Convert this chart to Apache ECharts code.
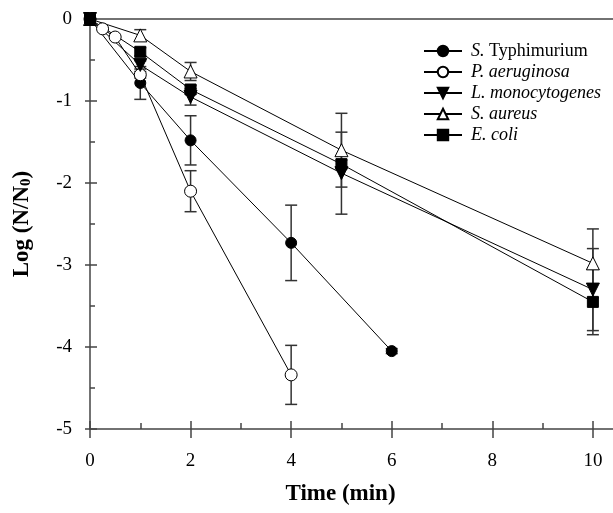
<!DOCTYPE html>
<html><head><meta charset="utf-8">
<script src="https://cdn.jsdelivr.net/npm/echarts@6/dist/echarts.min.js"></script>
<style>html,body{margin:0;padding:0;background:#fff}#c{width:613px;height:513px}</style>
</head><body><div id="c"></div>
<script>
// Data
const typhiT = [0, 1, 2, 4, 6];
const typhiY = [0, -0.78, -1.48, -2.73, -4.05];
const typhiE = [0, 0.2, 0.3, 0.46, 0.03];

const aeruT = [0, 0.25, 0.5, 1, 2, 4];
const aeruY = [0, -0.12, -0.22, -0.68, -2.1, -4.34];
const aeruE = [0, 0, 0, 0.04, 0.25, 0.36];

const monoT = [0, 1, 2, 5, 10];
const monoY = [0, -0.56, -0.95, -1.88, -3.3];
const monoE = [0, 0.05, 0.1, 0.5, 0.5];

const aureusT = [0, 1, 2, 5, 10];
const aureusY = [0, -0.2, -0.64, -1.6, -2.98];
const aureusE = [0, 0.07, 0.11, 0.45, 0.42];

const coliT = [0, 1, 2, 5, 10];
const coliY = [0, -0.4, -0.86, -1.77, -3.45];
const coliE = [0, 0.05, 0.05, 0.05, 0.4];

const xTicks = [0, 2, 4, 6, 8, 10];
const xMinor = [1, 3, 5, 7, 9];
const yTicks = [0, -1, -2, -3, -4, -5];

const FONT = 'Liberation Serif';
const AX = '#444';
const chart = echarts.init(document.getElementById('c'));

function pts(t, y) { return t.map((v, i) => [v, y[i]]); }
function errs(t, y, e) { return t.map((v, i) => [v, y[i], e[i]]); }

function errSeries(name, data) {
  return {
    type: 'custom', name: name + '_err', z: 1, silent: true,
    data: data,
    renderItem: function (params, api) {
      const x = api.value(0), y = api.value(1), e = api.value(2);
      if (!e) return null;
      const top = api.coord([x, y + e]);
      const bot = api.coord([x, y - e]);
      const w = 6;
      const st = { stroke: '#333', lineWidth: 1.5 };
      return {
        type: 'group', children: [
          { type: 'line', shape: { x1: top[0], y1: top[1], x2: bot[0], y2: bot[1] }, style: st },
          { type: 'line', shape: { x1: top[0] - w, y1: top[1], x2: top[0] + w, y2: top[1] }, style: st },
          { type: 'line', shape: { x1: bot[0] - w, y1: bot[1], x2: bot[0] + w, y2: bot[1] }, style: st }
        ]
      };
    }
  };
}

function lineSeries(name, data, symbol, filled, size, rotate) {
  return {
    type: 'line', name: name, data: data, z: 3,
    symbol: symbol, symbolSize: size, symbolRotate: rotate || 0,
    showAllSymbol: true,
    lineStyle: { color: '#000', width: 1 },
    itemStyle: { color: filled ? '#000' : '#fff', borderColor: '#000', borderWidth: 1 },
    emphasis: { disabled: true },
    animation: false
  };
}

const names = ['S. Typhimurium', 'P. aeruginosa', 'L. monocytogenes', 'S. aureus', 'E. coli'];

function tickAxis(pos, vals, inside, len) {
  return {
    type: 'value', min: 0, max: 10.4, position: pos,
    axisLine: { show: false, onZero: false },
    axisTick: { show: true, inside: inside, length: len, customValues: vals, lineStyle: { color: AX, width: 1.5 } },
    axisLabel: { show: false }, splitLine: { show: false }
  };
}

const option = {
  animation: false,
  grid: { left: 90, top: 19, width: 523, height: 410, containLabel: false },
  legend: {
    orient: 'vertical', left: 418, top: 37,
    itemWidth: 38, itemHeight: 13, itemGap: 3,
    data: names,
    textStyle: {
      fontFamily: FONT, fontSize: 18, color: '#000', padding: [0, 0, 0, 4],
      rich: { i: { fontFamily: FONT, fontSize: 18, fontStyle: 'italic', color: '#000' },
              n: { fontFamily: FONT, fontSize: 18, color: '#000' } }
    },
    formatter: function (n) {
      if (n === 'S. Typhimurium') return '{i|S.}{n| Typhimurium}';
      return '{i|' + n + '}';
    }
  },
  xAxis: [
    {
      type: 'value', min: 0, max: 10.4, position: 'bottom',
      axisLine: { show: true, onZero: false, lineStyle: { color: AX, width: 1.5 } },
      axisTick: { show: true, inside: true, length: 8, customValues: xTicks, lineStyle: { color: AX, width: 1.5 } },
      splitLine: { show: false },
      axisLabel: { fontFamily: FONT, fontSize: 19, color: '#000', margin: 23, customValues: xTicks },
      name: 'Time (min)', nameLocation: 'middle', nameGap: 54,
      nameTextStyle: { fontFamily: FONT, fontSize: 23, fontWeight: 'bold', color: '#000', padding: [0, 22, 0, 0] }
    },
    tickAxis('bottom', xTicks, false, 9),
    tickAxis('bottom', xMinor, true, 6),
    {
      type: 'value', min: 0, max: 10.4, position: 'top',
      axisLine: { show: true, onZero: false, lineStyle: { color: AX, width: 1.5 } },
      axisTick: { show: false }, axisLabel: { show: false }, splitLine: { show: false }
    }
  ],
  yAxis: [
    {
      type: 'value', min: -5, max: 0, interval: 1, position: 'left',
      axisLine: { show: true, onZero: false, lineStyle: { color: AX, width: 1.5 } },
      axisTick: { show: true, inside: true, length: 7, lineStyle: { color: AX, width: 1.5 } },
      minorTick: { show: true, splitNumber: 2, length: 5, lineStyle: { color: AX, width: 1.5 } },
      splitLine: { show: false },
      axisLabel: { fontFamily: FONT, fontSize: 19, color: '#000', margin: 18,
        formatter: v => (yTicks.indexOf(v) >= 0 ? String(v) : '') },
      name: '{b|Log (N/N}{s|0}{b|)}', nameLocation: 'middle', nameGap: 56, nameRotate: 90,
      nameTextStyle: {
        rich: {
          b: { fontFamily: FONT, fontSize: 23, fontWeight: 'bold', color: '#000' },
          s: { fontFamily: FONT, fontSize: 15, fontWeight: 'bold', color: '#000', verticalAlign: 'bottom', padding: [9, 0, 0, 0] }
        }
      }
    },
    {
      type: 'value', min: -5, max: 0, interval: 1, position: 'left',
      axisLine: { show: false, onZero: false },
      axisTick: { show: true, inside: false, length: 5, lineStyle: { color: AX, width: 1.5 } },
      axisLabel: { show: false }, splitLine: { show: false }
    }
  ],
  series: [
    errSeries(names[0], errs(typhiT, typhiY, typhiE)),
    errSeries(names[1], errs(aeruT, aeruY, aeruE)),
    errSeries(names[2], errs(monoT, monoY, monoE)),
    errSeries(names[3], errs(aureusT, aureusY, aureusE)),
    errSeries(names[4], errs(coliT, coliY, coliE)),
    lineSeries(names[0], pts(typhiT, typhiY), 'circle', true, 11),
    lineSeries(names[1], pts(aeruT, aeruY), 'circle', false, 12),
    lineSeries(names[2], pts(monoT, monoY), 'triangle', true, 13, 180),
    lineSeries(names[3], pts(aureusT, aureusY), 'triangle', false, 13),
    lineSeries(names[4], pts(coliT, coliY), 'rect', true, 11)
  ]
};
chart.setOption(option);
</script>
</body></html>
